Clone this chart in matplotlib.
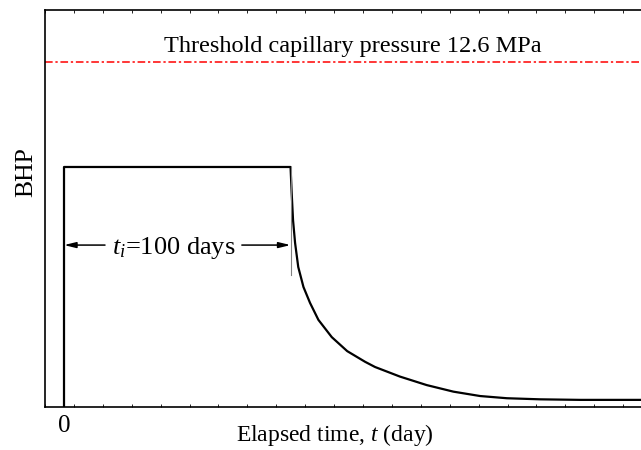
import numpy as np
import matplotlib
matplotlib.use("Agg")
import matplotlib.pyplot as plt

# BHP history: constant during injection, then decay after t_i
timeDays = [0, 0, 100, 100.5, 101.1, 102.0, 103.4, 105.7, 108.6, 112.3, 118.2,
            125.0, 132.9, 137.3, 148.3, 160.1, 171.9, 183.7, 195.5, 210.2,
            227.8, 254.7]
bhpMPa = [0, 8.76, 8.76, 7.81, 6.82, 5.99, 5.11, 4.38, 3.80, 3.18, 2.55,
          2.04, 1.65, 1.46, 1.11, 0.80, 0.56, 0.40, 0.32, 0.28, 0.26, 0.26]
thresholdMPa = 12.6
injectionDays = 100

plt.rcParams['font.family'] = ['Liberation Serif', 'DejaVu Serif']
plt.rcParams['mathtext.fontset'] = 'custom'
plt.rcParams['mathtext.rm'] = 'Liberation Serif'
plt.rcParams['mathtext.it'] = 'Liberation Serif:italic'

fig = plt.figure(figsize=(6.41, 4.5), dpi=100)
ax = fig.add_axes([45 / 641, 43 / 450, 596 / 641, 397 / 450])

xMin, xMax = -8.39, 254.7
ax.set_xlim(xMin, xMax)
ax.set_ylim(0, 14.49)

# main curve
ax.plot(timeDays, bhpMPa, color='black', lw=1.6, solid_joinstyle='round')

# threshold line
ax.axhline(thresholdMPa, color='red', lw=1.1, linestyle=(0, (5, 1.8, 1.5, 1.8)))
ax.text(127.6, 12.97, 'Threshold capillary pressure 12.6 MPa', ha='center',
        va='baseline', fontsize=17.5)

# t_i marker
ax.plot([injectionDays, injectionDays], [8.76, 4.82], color='gray', lw=0.8)
arrowY = 5.91
arrowStyle = '-|>,head_length=0.7,head_width=0.17'
ax.annotate('', xy=(0, arrowY), xytext=(18.1, arrowY),
            arrowprops=dict(arrowstyle=arrowStyle, color='black', lw=1.1,
                            shrinkA=0, shrinkB=0))
ax.annotate('', xy=(injectionDays, arrowY), xytext=(78.5, arrowY),
            arrowprops=dict(arrowstyle=arrowStyle, color='black', lw=1.1,
                            shrinkA=0, shrinkB=0))
ax.text(48.4, 5.57, r'$t_i$=100 days', ha='center', va='baseline', fontsize=19)

# axes styling
ax.spines['right'].set_visible(False)
for s in ['left', 'top', 'bottom']:
    ax.spines[s].set_linewidth(1.2)
ax.set_xticks([0])
ax.set_xticklabels(['0'], fontsize=18)
ax.set_xticks(np.arange(xMin, xMax, 12.76), minor=True)
ax.tick_params(axis='x', which='major', length=0, pad=5.5)
ax.tick_params(axis='x', which='minor', direction='in', length=2.5,
               width=0.6, top=True, bottom=True)
ax.set_yticks([])

ax.set_xlabel('Elapsed time, $t$ (day)', fontsize=17)
ax.xaxis.set_label_coords((335 - 45) / 596, -0.037)
ax.set_ylabel('BHP', fontsize=18.5)
ax.yaxis.set_label_coords(-0.0134, (407 - 172) / 397)

fig.savefig('out.png', dpi=100)
